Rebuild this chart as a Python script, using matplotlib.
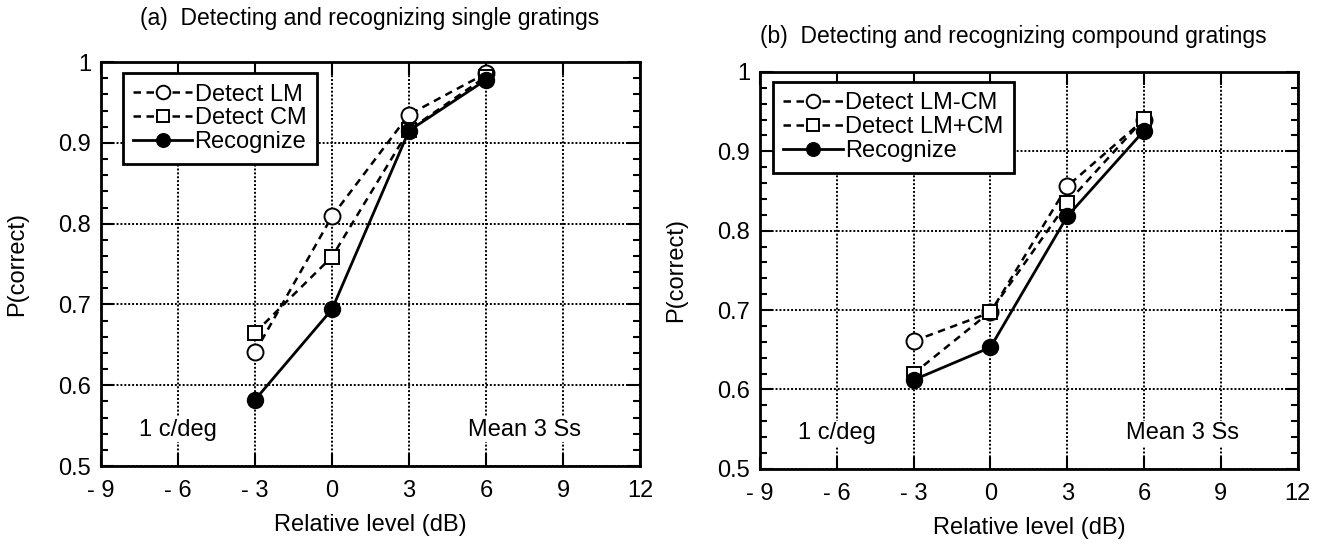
import matplotlib.pyplot as plt
from matplotlib.ticker import MultipleLocator

plt.rcParams['font.family'] = ['Liberation Sans', 'DejaVu Sans']

levels = [-3, 0, 3, 6]

# panel (a)
a_detect_lm = [0.641, 0.809, 0.935, 0.986]
a_detect_cm = [0.665, 0.759, 0.916, 0.982]
a_recognize = [0.582, 0.694, 0.915, 0.978]
a_labels = ['Detect LM', 'Detect CM', 'Recognize']

# panel (b)
b_detect_diff = [0.661, 0.697, 0.856, 0.940]
b_detect_sum = [0.620, 0.698, 0.835, 0.941]
b_recognize = [0.612, 0.653, 0.818, 0.926]
b_labels = ['Detect LM-CM', 'Detect LM+CM', 'Recognize']

xticks = [-9, -6, -3, 0, 3, 6, 9, 12]
xticklabels = ['- 9', '- 6', '- 3', '0', '3', '6', '9', '12']
yticks = [0.5, 0.6, 0.7, 0.8, 0.9, 1.0]
yticklabels = ['0.5', '0.6', '0.7', '0.8', '0.9', '1']

FS = 17

fig = plt.figure(figsize=(13.18, 5.49), dpi=100)
axA = fig.add_axes([0.0766, 0.151, 0.409, 0.736])
axB = fig.add_axes([0.5766, 0.146, 0.408, 0.723])


def draw(ax, s1, s2, s3, labels, title, tx, ty, leg_anchor):
    ax.grid(True, color='black', linestyle=(0, (1.0, 1.0)), linewidth=1.4)
    ax.set_axisbelow(True)
    ms = 11.5
    ax.plot(levels, s1, color='black', lw=1.8, marker='o', ms=ms,
            mfc='white', mec='black', mew=1.4, dashes=(3, 2.2), label=labels[0], zorder=3)
    ax.plot(levels, s2, color='black', lw=1.8, marker='s', ms=ms - 1,
            mfc='white', mec='black', mew=1.4, dashes=(3, 2.2), label=labels[1], zorder=3)
    ax.plot(levels, s3, '-', color='black', lw=2.0, marker='o', ms=ms,
            mfc='black', mec='black', label=labels[2], zorder=4)
    ax.set_xlim(-9, 12)
    ax.set_ylim(0.5, 1.0)
    ax.set_xticks(xticks)
    ax.set_xticklabels(xticklabels)
    ax.set_yticks(yticks)
    ax.set_yticklabels(yticklabels)
    ax.yaxis.set_minor_locator(MultipleLocator(0.02))
    ax.tick_params(which='both', direction='in', top=True, right=True,
                   labelsize=FS, width=1.5)
    ax.tick_params(which='major', length=9)
    ax.tick_params(axis='x', which='major', pad=10)
    ax.tick_params(axis='y', which='major', pad=7)
    ax.tick_params(which='minor', length=5)
    for sp in ax.spines.values():
        sp.set_linewidth(2)
    ax.set_xlabel('Relative level (dB)', fontsize=FS, labelpad=9)
    ax.set_ylabel('P(correct)', fontsize=FS, labelpad=22)
    ax.text(-6, 0.545, '1 c/deg', fontsize=FS, ha='center', va='center',
            bbox=dict(facecolor='white', edgecolor='none', pad=1), zorder=2)
    ax.text(7.5, 0.545, 'Mean 3 Ss', fontsize=FS, ha='center', va='center',
            bbox=dict(facecolor='white', edgecolor='none', pad=1), zorder=2)
    leg = ax.legend(loc='upper left', bbox_to_anchor=leg_anchor, fontsize=FS,
                    frameon=True, fancybox=False, edgecolor='black',
                    borderpad=0.45, labelspacing=0.08, handlelength=2.5,
                    handletextpad=0.1, borderaxespad=0.0, markerscale=0.85)
    leg.get_frame().set_linewidth(2)
    leg.get_frame().set_alpha(1)
    fig.text(tx, ty, title, fontsize=16.5, ha='center', va='center')


draw(axA, a_detect_lm, a_detect_cm, a_recognize, a_labels,
     '(a)  Detecting and recognizing single gratings', 370 / 1318, 1 - 18 / 549,
     (0.04, 0.973))
draw(axB, b_detect_diff, b_detect_sum, b_recognize, b_labels,
     '(b)  Detecting and recognizing compound gratings', 1013 / 1318, 1 - 37 / 549,
     (0.024, 0.975))

fig.savefig('out.png', dpi=100)
